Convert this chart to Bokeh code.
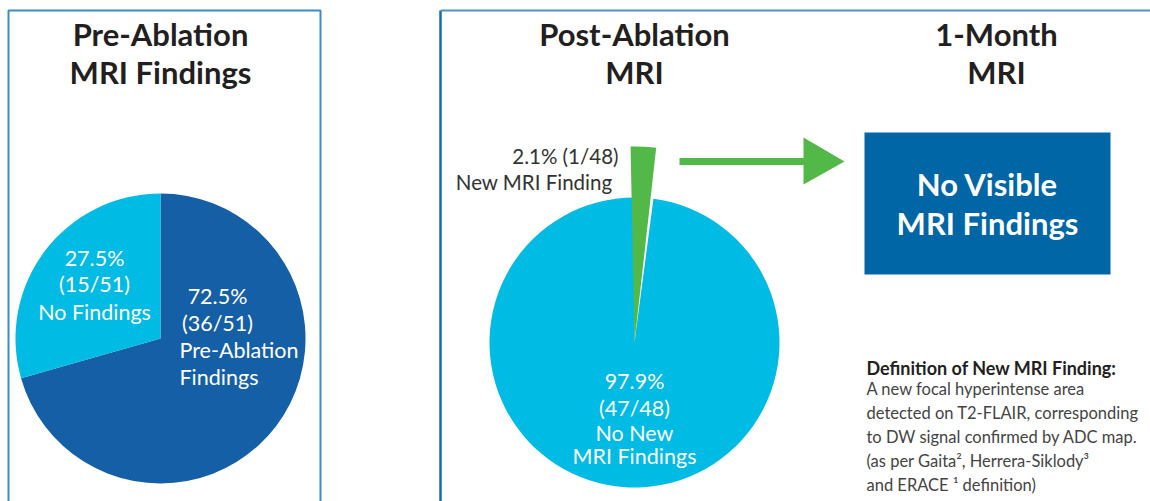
import math
from bokeh.plotting import figure
from bokeh.models import Range1d
from bokeh.core.properties import value
from bokeh.embed import file_html
from bokeh.resources import INLINE

# ---------------- data ----------------
pre_labels = ["Pre-Ablation Findings", "No Findings"]
pre_counts = [36, 15]
pre_pct = ["72.5%", "27.5%"]
pre_frac = ["(36/51)", "(15/51)"]

post_labels = ["New MRI Finding", "No New MRI Findings"]
post_counts = [1, 47]
post_pct = ["2.1%", "97.9%"]
post_frac = ["(1/48)", "(47/48)"]

titles = [["Pre-Ablation", "MRI Findings"], ["Post-Ablation", "MRI"], ["1-Month", "MRI"]]
box_text = ["No Visible", "MRI Findings"]
definition_title = "Definition of New MRI Finding:"
definition_lines = [
    "A new focal hyperintense area",
    "detected on T2-FLAIR, corresponding",
    "to DW signal confirmed by ADC map.",
    "(as per Gaita\u00b2, Herrera-Siklody\u00b3",
    " and ERACE \u00b9 definition)",
]

DARK = "#155fa6"
CYAN = "#00bbe3"
GREEN = "#52b848"
BOX = "#0066a6"
FONT = "Lato"

H = 501
def Y(v):
    return H - v

p = figure(width=1150, height=501, output_backend="svg", toolbar_location=None,
           x_range=Range1d(0, 1150), y_range=Range1d(0, 501), min_border=0)
p.axis.visible = False
p.grid.visible = False
p.outline_line_color = None
p.background_fill_color = "white"
p.border_fill_color = "white"

# ---------------- panel frames ----------------
p.line([8, 8, 320, 320], [Y(501), Y(10), Y(10), Y(501)], line_color="#3d8cc6", line_width=2)
p.line([440, 440], [Y(501), Y(10)], line_color="#1a6aad", line_width=2.5)
p.line([440, 1150], [Y(10), Y(10)], line_color="#4a94c8", line_width=2)

# ---------------- titles ----------------
title_x = [160, 634, 996]
for tx, (l1, l2) in zip(title_x, titles):
    p.text([tx, tx], [Y(33), Y(71)], text=[l1, l2], text_align="center", text_baseline="middle",
           text_font=value(FONT), text_font_style="bold", text_font_size="31px", text_color="#231f20")

# ---------------- pre-ablation pie ----------------
tot = sum(pre_counts)
cx, cy, r = 160, Y(338), 145
start = math.pi / 2
a_dark = 2 * math.pi * pre_counts[0] / tot
p.wedge(x=cx, y=cy, radius=r, start_angle=start - a_dark, end_angle=start,
        fill_color=DARK, line_color=None)
p.wedge(x=cx, y=cy, radius=r, start_angle=start, end_angle=start - a_dark + 2 * math.pi,
        fill_color=CYAN, line_color=None)

lbl = dict(text_font=value(FONT), text_font_size="21.5px", text_color="white", text_baseline="middle")
p.text([94, 94, 94], [Y(257), Y(283), Y(311)], text=[pre_pct[1], pre_frac[1], pre_labels[1]],
       text_align="center", **lbl)
p.text([217, 217], [Y(295), Y(322)], text=[pre_pct[0], pre_frac[0]], text_align="center", **lbl)
p.text([179, 179], [Y(349), Y(376)], text=["Pre-Ablation", "Findings"], text_align="left", **lbl)

# ---------------- post-ablation pie ----------------
tot2 = sum(post_counts)
cx2, cy2, r2 = 634, Y(342), 145
a_new = 2 * math.pi * post_counts[0] / tot2
p.wedge(x=cx2, y=cy2, radius=r2, start_angle=start, end_angle=start - a_new + 2 * math.pi,
        fill_color=CYAN, line_color=None)
p.wedge(x=cx2, y=cy2, radius=196, start_angle=start - a_new + 0.02, end_angle=start + 0.02,
        fill_color=GREEN, line_color=None)

p.text([618], [Y(155)], text=[f"{post_pct[0]} {post_frac[0]}"], text_align="right",
       text_baseline="middle", text_font=value(FONT), text_font_size="20.5px", text_color="#333333")
p.text([612], [Y(181)], text=[post_labels[0]], text_align="right",
       text_baseline="middle", text_font=value(FONT), text_font_size="20.5px", text_color="#333333")
p.text([634] * 4, [Y(380), Y(407), Y(432), Y(455)],
       text=[post_pct[1], post_frac[1], "No New", "MRI Findings"], text_align="center", **lbl)

# ---------------- arrow ----------------
p.line([679, 805], [Y(161), Y(161)], line_color=GREEN, line_width=7)
p.patch([803, 844, 803], [Y(137), Y(161), Y(184)], fill_color=GREEN, line_color=None)

# ---------------- 1-month box ----------------
p.quad(left=864, right=1110, top=Y(132), bottom=Y(274), fill_color=BOX, line_color=None)
p.text([987, 987], [Y(183), Y(222)], text=box_text, text_align="center", text_baseline="middle",
       text_font=value(FONT), text_font_style="bold", text_font_size="31px", text_color="white")

# ---------------- definition ----------------
p.text([866], [Y(367)], text=[definition_title], text_align="left", text_baseline="middle",
       text_font=value(FONT), text_font_style="bold", text_font_size="18px", text_color="#231f20")
p.text([866] * len(definition_lines), [Y(388 + 24 * i) for i in range(len(definition_lines))],
       text=definition_lines, text_align="left", text_baseline="middle",
       text_font=value(FONT), text_font_size="16.5px", text_color="#444444")

open("out.html", "w").write(file_html(p, INLINE))
